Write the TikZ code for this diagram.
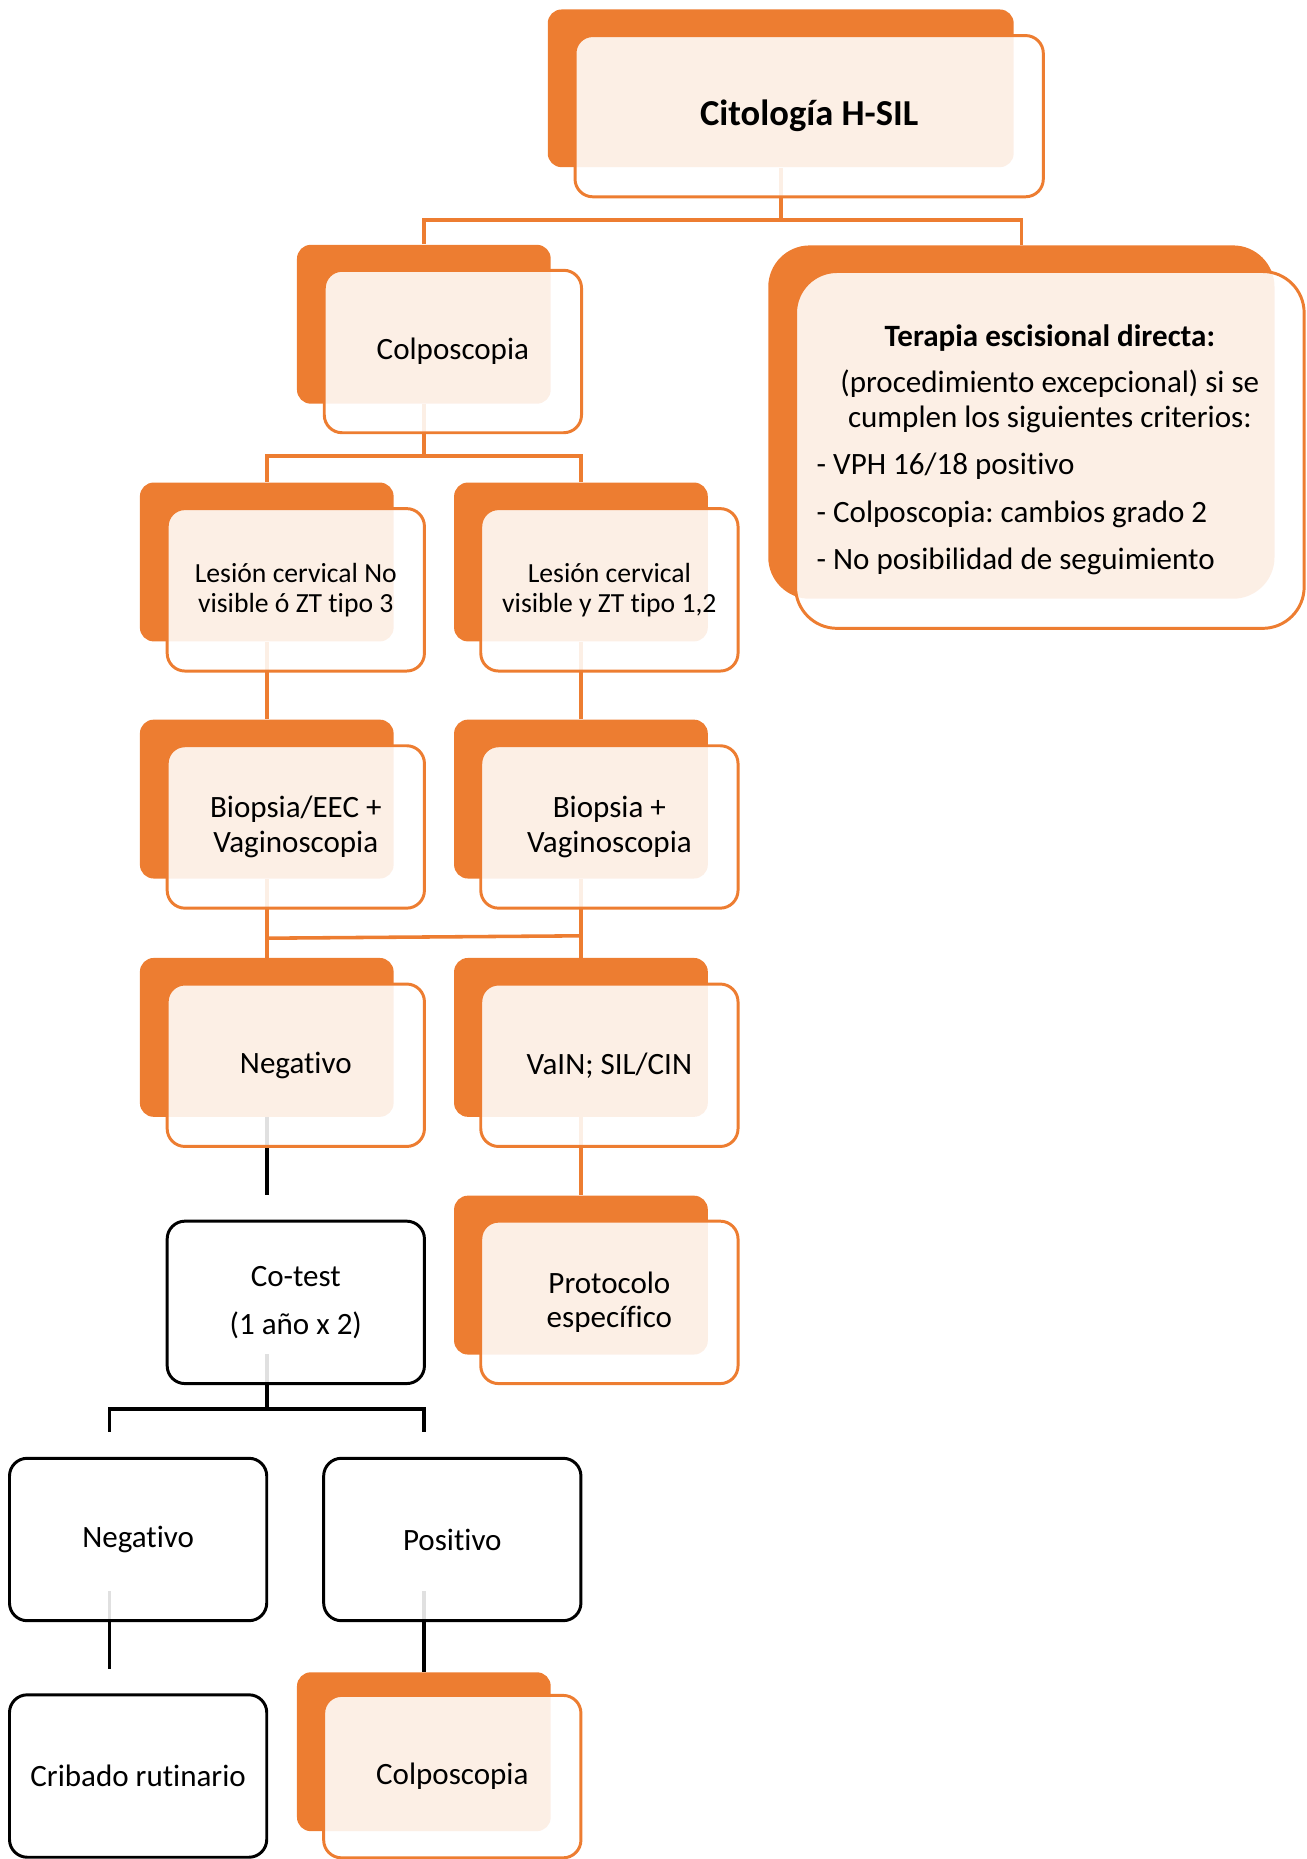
\documentclass[tikz,border=0pt]{standalone}
\usepackage{fontspec}
\setmainfont{Carlito}[Ligatures=NoCommon]
\usetikzlibrary{calc}
\definecolor{hsorange}{HTML}{ED7D31}
\frenchspacing

\begin{document}
\begin{tikzpicture}[x=0.6pt,y=-0.6pt,
	backbox/.style={fill=hsorange,rounded corners=7pt,inner sep=0pt,minimum width=128.4pt,minimum height=80.4pt},
	ghostbox/.style={inner sep=0pt,minimum width=128.4pt,minimum height=80.4pt},
	frontbox/.style={draw=hsorange,line width=1.5pt,fill=white,fill opacity=0.88,text opacity=1,rounded corners=9pt,inner sep=0pt,minimum width=130.2pt,minimum height=82.2pt,align=center,font=\fontsize{15.7}{17.4}\selectfont},
	plainbox/.style={frontbox,draw=black},
	link/.style={draw=hsorange,line width=1.8pt},
	blink/.style={draw=black,line width=1.8pt}]
					\useasboundingbox (0,0) rectangle (1101.6,1568);
					%BACK SHAPES
					\node[backbox,minimum width=235.8pt,minimum height=79.8pt] (hsilB) at (658.5,74.5) {};
					\node[backbox] (colpoB) at (357.5,273.5) {};
					\node[backbox,rounded corners=21pt,minimum width=256.2pt,minimum height=178.8pt] (teraB) at (861.5,356) {};
					\node[backbox] (nvisB) at (225,474) {};
					\node[backbox] (visB) at (490,474) {};
					\node[backbox] (biopAB) at (225,674) {};
					\node[backbox] (biopBB) at (490,674) {};
					\node[backbox] (negB) at (225,875) {};
					\node[backbox] (vainB) at (490,875) {};
					\node[ghostbox] (cotestB) at (225,1075) {};
					\node[backbox] (protB) at (490,1075.5) {};
					\node[ghostbox] (negtB) at (92.5,1275) {};
					\node[ghostbox] (postB) at (357.5,1275) {};
					\node[ghostbox] (cribB) at (92.5,1475) {};
					\node[backbox] (colpoEndB) at (357.5,1477.5) {};
					
					%CONNECTORS
					\draw[link] (hsilB.south) -- ++(0,44) coordinate (j1) -| (colpoB.north);
					\draw[link] (j1) -| (teraB.north);
					\draw[link] (colpoB.south) -- ++(0,44) coordinate (j2) -| (nvisB.north);
					\draw[link] (j2) -| (visB.north);
					\draw[link] (nvisB.south) -- (biopAB.north);
					\draw[link] (visB.south) -- (biopBB.north);
					\draw[link] (biopAB.south) -- (negB.north);
					\draw[link] (biopBB.south) -- (vainB.north);
					\draw[link] ($(biopAB.south)+(0,50)$) -- ($(biopBB.south)+(0,48)$);
					\draw[blink] (negB.south) -- (cotestB.north);
					\draw[link] (vainB.south) -- (protB.north);
					\draw[blink] (cotestB.south) -- ++(0,46) coordinate (j3) -| (negtB.north);
					\draw[blink] (j3) -| (postB.north);
					\draw[blink] (negtB.south) -- (cribB.north);
					\draw[blink] (postB.south) -- (colpoEndB.north);
					
					%FRONT BOXES
					\node[frontbox,minimum width=237pt,minimum height=81.6pt,font=\bfseries\fontsize{18.5}{22}\selectfont] (hsil) at (682.5,98) {Citología H-SIL};
					\node[frontbox] (colpo) at (382,296.5) {Colposcopia};
					\node[frontbox,rounded corners=21pt,minimum width=257.4pt,minimum height=180.6pt] (tera) at (885.5,379.5) {\textbf{Terapia escisional directa:}\\[6pt]
						(procedimiento excepcional) si se\\ cumplen los siguientes criterios:\\[6.6pt]
						\makebox[236pt][l]{- VPH 16/18 positivo}\\[6.6pt]
						\makebox[236pt][l]{- Colposcopia: cambios grado 2}\\[6.6pt]
						\makebox[236pt][l]{- No posibilidad de seguimiento}};
					\node[frontbox,font=\fontsize{14}{15}\selectfont] (nvis) at (249.5,497.5) {Lesión cervical No\\visible ó ZT tipo 3};
					\node[frontbox,font=\fontsize{14}{15}\selectfont] (vis) at (514,497.5) {Lesión cervical\\visible y ZT tipo 1,2};
					\node[frontbox] (biopA) at (249.5,697.5) {Biopsia/EEC +\\Vaginoscopia};
					\node[frontbox] (biopB) at (514,697.5) {Biopsia +\\Vaginoscopia};
					\node[frontbox] (neg) at (249.5,898.5) {Negativo};
					\node[frontbox] (vain) at (514,898.5) {VaIN; SIL/CIN};
					\node[plainbox] (cotest) at (249.5,1098.5) {Co-test\\[6.6pt](1 año x 2)};
					\node[frontbox] (prot) at (514,1098.5) {Protocolo\\específico};
					\node[plainbox] (negt) at (116.5,1298.5) {Negativo};
					\node[plainbox] (post) at (381.5,1298.5) {Positivo};
					\node[plainbox] (crib) at (116.5,1498) {Cribado rutinario};
					\node[frontbox] (colpoEnd) at (381.5,1498.5) {Colposcopia};
					
				  \end{tikzpicture}
\end{document}
